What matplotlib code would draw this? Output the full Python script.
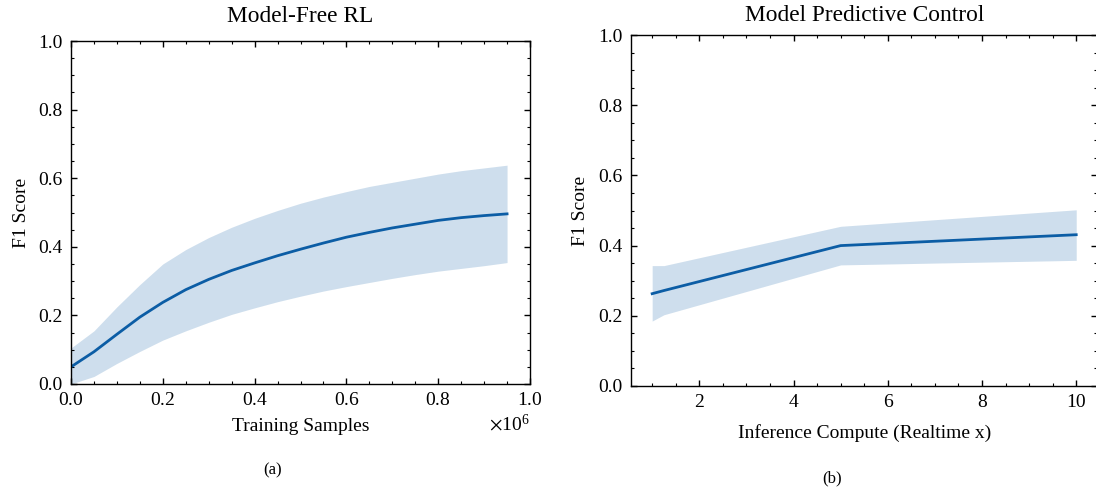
import numpy as np
import matplotlib
matplotlib.use("Agg")
import matplotlib.pyplot as plt
from matplotlib.ticker import MultipleLocator, ScalarFormatter

# data
# left: model-free RL, training samples vs F1
rl_samples = np.arange(0, 20) * 0.05e6
rl_mean = [0.050, 0.094, 0.145, 0.195, 0.238, 0.275, 0.305, 0.331, 0.353, 0.374,
           0.393, 0.411, 0.428, 0.442, 0.455, 0.466, 0.477, 0.485, 0.491, 0.496]
rl_upper = [0.105, 0.155, 0.225, 0.290, 0.350, 0.392, 0.427, 0.457, 0.483, 0.506,
            0.527, 0.545, 0.561, 0.576, 0.588, 0.600, 0.612, 0.622, 0.630, 0.638]
rl_lower = [0.000, 0.022, 0.060, 0.095, 0.128, 0.155, 0.180, 0.203, 0.222, 0.240,
            0.256, 0.271, 0.284, 0.296, 0.308, 0.319, 0.329, 0.337, 0.345, 0.354]

# right: MPC, inference compute vs F1
mpc_compute = [1, 1.25, 5, 10]
mpc_mean = [0.263, 0.272, 0.400, 0.431]
mpc_upper = [0.343, 0.343, 0.455, 0.502]
mpc_lower = [0.185, 0.203, 0.345, 0.358]

color = "#0C5DA5"

plt.rcParams["font.family"] = "serif"
plt.rcParams["font.serif"] = ["Liberation Serif", "DejaVu Serif"]
plt.rcParams["mathtext.fontset"] = "stix"
plt.rcParams["font.size"] = 14
plt.rcParams["axes.linewidth"] = 1.0
plt.rcParams["xtick.direction"] = "in"
plt.rcParams["ytick.direction"] = "in"
plt.rcParams["xtick.top"] = True
plt.rcParams["ytick.right"] = True
plt.rcParams["xtick.major.size"] = 4.5
plt.rcParams["ytick.major.size"] = 4.5
plt.rcParams["xtick.minor.size"] = 2.2
plt.rcParams["ytick.minor.size"] = 2.2
plt.rcParams["xtick.major.width"] = 1.0
plt.rcParams["ytick.major.width"] = 1.0
plt.rcParams["xtick.minor.width"] = 0.8
plt.rcParams["ytick.minor.width"] = 0.8
plt.rcParams["xtick.major.pad"] = 6.0
plt.rcParams["ytick.major.pad"] = 5.8

fig = plt.figure(figsize=(10.96, 4.87), dpi=100)

# left panel
ax1 = fig.add_axes([0.0648, 0.2115, 0.4188, 0.7043])
ax1.fill_between(rl_samples, rl_lower, rl_upper, color=color, alpha=0.2, linewidth=0)
ax1.plot(rl_samples, rl_mean, color=color, linewidth=2.0)
ax1.set_xlim(0, 1e6)
ax1.set_ylim(0, 1)
ax1.xaxis.set_major_locator(MultipleLocator(0.2e6))
ax1.xaxis.set_minor_locator(MultipleLocator(0.05e6))
ax1.yaxis.set_major_locator(MultipleLocator(0.2))
ax1.yaxis.set_minor_locator(MultipleLocator(0.05))
fmt = ScalarFormatter(useMathText=True)
fmt.set_powerlimits((0, 0))
ax1.xaxis.set_major_formatter(fmt)
ax1.set_xlabel("Training Samples", labelpad=6)
ax1.set_ylabel("F1 Score", labelpad=6)
ax1.set_title("Model-Free RL", pad=14)

# right panel (right spine falls just past the figure edge)
ax2 = fig.add_axes([0.5757, 0.2074, 0.4256, 0.7207])
ax2.fill_between(mpc_compute, mpc_lower, mpc_upper, color=color, alpha=0.2, linewidth=0)
ax2.plot(mpc_compute, mpc_mean, color=color, linewidth=2.0)
ax2.set_xlim(0.55, 10.45)
ax2.set_ylim(0, 1)
ax2.xaxis.set_major_locator(MultipleLocator(2))
ax2.xaxis.set_minor_locator(MultipleLocator(0.5))
ax2.yaxis.set_major_locator(MultipleLocator(0.2))
ax2.yaxis.set_minor_locator(MultipleLocator(0.05))
ax2.set_xlabel("Inference Compute (Realtime x)", labelpad=9)
ax2.set_ylabel("F1 Score", labelpad=7)
ax2.set_title("Model Predictive Control", pad=10)

fig.text(0.249, 0.035, "(a)", ha="center", va="center", fontsize=12)
fig.text(0.759, 0.018, "(b)", ha="center", va="center", fontsize=12)

fig.savefig("out.png", dpi=100)
